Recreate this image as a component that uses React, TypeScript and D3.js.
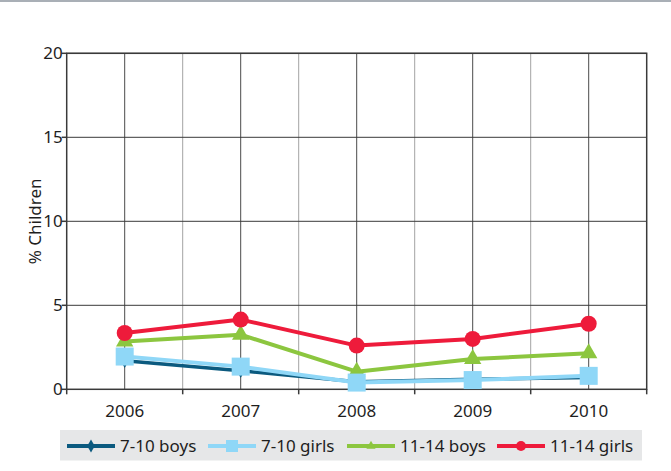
import React from 'react';
import * as d3 from 'd3';

// chart data
const years = ['2006', '2007', '2008', '2009', '2010'];
const boys710 = [1.7, 1.1, 0.45, 0.6, 0.7];
const girls710 = [1.95, 1.35, 0.4, 0.55, 0.8];
const boys1114 = [2.85, 3.25, 1.05, 1.8, 2.15];
const girls1114 = [3.35, 4.15, 2.6, 3.0, 3.9];
const yTicks = [0, 5, 10, 15, 20];

const series = [
  { name: '7-10 boys', values: boys710, color: '#0b5a7f', marker: 'diamond', width: 3.5 },
  { name: '11-14 boys', values: boys1114, color: '#8cc63f', marker: 'triangle', width: 4 },
  { name: '7-10 girls', values: girls710, color: '#8fd7f7', marker: 'square', width: 4 },
  { name: '11-14 girls', values: girls1114, color: '#ee1b3b', marker: 'circle', width: 4 },
];
const legendOrder = ['7-10 boys', '7-10 girls', '11-14 boys', '11-14 girls'];
const legendX = [67, 208, 347, 497];

const W = 671;
const H = 471;
const margin = { top: 53.3, right: 24.3, bottom: 81.7, left: 66.7 };
const font = '"Noto Sans", sans-serif';

const Marker = ({ type, x, y, size, color }) => {
  if (type === 'circle') return <circle cx={x} cy={y} r={size / 2} fill={color} />;
  if (type === 'square')
    return <rect x={x - size / 2} y={y - size / 2} width={size} height={size} fill={color} />;
  const sym = type === 'triangle' ? d3.symbolTriangle : d3.symbolDiamond;
  const area = type === 'triangle' ? size * size * 0.45 : size * size * 0.5;
  return <path d={d3.symbol(sym, area)()} transform={`translate(${x},${y})`} fill={color} />;
};

const markerSize = { circle: 16, square: 18, triangle: 17, diamond: 11 };
const legendMarkerSize = { circle: 10, square: 12, triangle: 9, diamond: 10 };

export default function App() {
  const x0 = margin.left;
  const x1 = W - margin.right;
  const y0 = H - margin.bottom;
  const y1 = margin.top;

  const x = d3.scaleBand().domain(years).range([x0, x1]);
  const y = d3.scaleLinear().domain([0, 20]).range([y0, y1]);
  const cx = (d) => x(d) + x.bandwidth() / 2;

  const line = d3.line().x((d) => cx(d[0])).y((d) => y(d[1]));

  const boundaries = years.map((d) => x(d)).concat([x1]);

  return (
    <svg width={W} height={H} style={{ position: 'absolute', left: 0, top: 0, background: '#fff' }}>
      <rect x={0} y={0} width={W} height={2} fill="#a9afb6" />

      {/* light gridlines on band edges */}
      {boundaries.slice(1, -1).map((b, i) => (
        <line key={'b' + i} x1={b} x2={b} y1={y1} y2={y0} stroke="#a3a3a3" strokeWidth={1} />
      ))}
      {/* darker gridlines on categories */}
      {years.map((d) => (
        <line key={'c' + d} x1={cx(d)} x2={cx(d)} y1={y1} y2={y0} stroke="#4a4a4a" strokeWidth={1} />
      ))}
      {yTicks.slice(1).map((t) => (
        <line key={'h' + t} x1={x0} x2={x1} y1={y(t)} y2={y(t)} stroke="#3a3a3a" strokeWidth={1} />
      ))}

      {/* frame */}
      <rect x={x0} y={y1} width={x1 - x0} height={y0 - y1} fill="none" stroke="#3a3a3a" strokeWidth={1.5} />

      {/* y axis ticks and labels */}
      {yTicks.map((t) => (
        <g key={'yt' + t}>
          <line x1={x0 - 5} x2={x0} y1={y(t)} y2={y(t)} stroke="#3a3a3a" strokeWidth={1.5} />
          <text x={x0 - 4} y={y(t)} dy="0.36em" textAnchor="end" fontFamily={font} fontSize={17} fill="#1e1e1e">
            {t}
          </text>
        </g>
      ))}

      {/* x axis ticks and labels */}
      {boundaries.map((b, i) => (
        <line key={'xt' + i} x1={b} x2={b} y1={y0} y2={y0 + 5} stroke="#3a3a3a" strokeWidth={1.5} />
      ))}
      {years.map((d) => (
        <text key={'xl' + d} x={cx(d)} y={y0 + 28} textAnchor="middle" fontFamily={font} fontSize={17} fill="#1e1e1e">
          {d}
        </text>
      ))}

      <text
        transform={`translate(41, ${(y0 + y1) / 2}) rotate(-90)`}
        textAnchor="middle"
        fontFamily={font}
        fontSize={17}
        fill="#1e1e1e"
      >
        % Children
      </text>

      {/* series */}
      {series.map((s) => {
        const pts = years.map((d, i) => [d, s.values[i]]);
        return (
          <g key={s.name}>
            <path d={line(pts)} fill="none" stroke={s.color} strokeWidth={s.width} strokeLinejoin="round" />
            {pts.map((p) => (
              <Marker key={p[0]} type={s.marker} x={cx(p[0])} y={y(p[1])} size={markerSize[s.marker]} color={s.color} />
            ))}
          </g>
        );
      })}

      {/* legend */}
      <rect x={60} y={430} width={582} height={30.5} fill="#e6e7e8" />
      {legendOrder.map((name, i) => {
        const s = series.find((d) => d.name === name);
        const lx = legendX[i];
        const ly = 446;
        return (
          <g key={'lg' + name}>
            <line x1={lx} x2={lx + 48} y1={ly} y2={ly} stroke={s.color} strokeWidth={4} />
            <Marker type={s.marker} x={lx + 24} y={ly} size={legendMarkerSize[s.marker]} color={s.color} />
            <text x={lx + 53} y={ly} dy="0.36em" fontFamily={font} fontSize={17} fill="#1e1e1e">
              {name}
            </text>
          </g>
        );
      })}
    </svg>
  );
}
